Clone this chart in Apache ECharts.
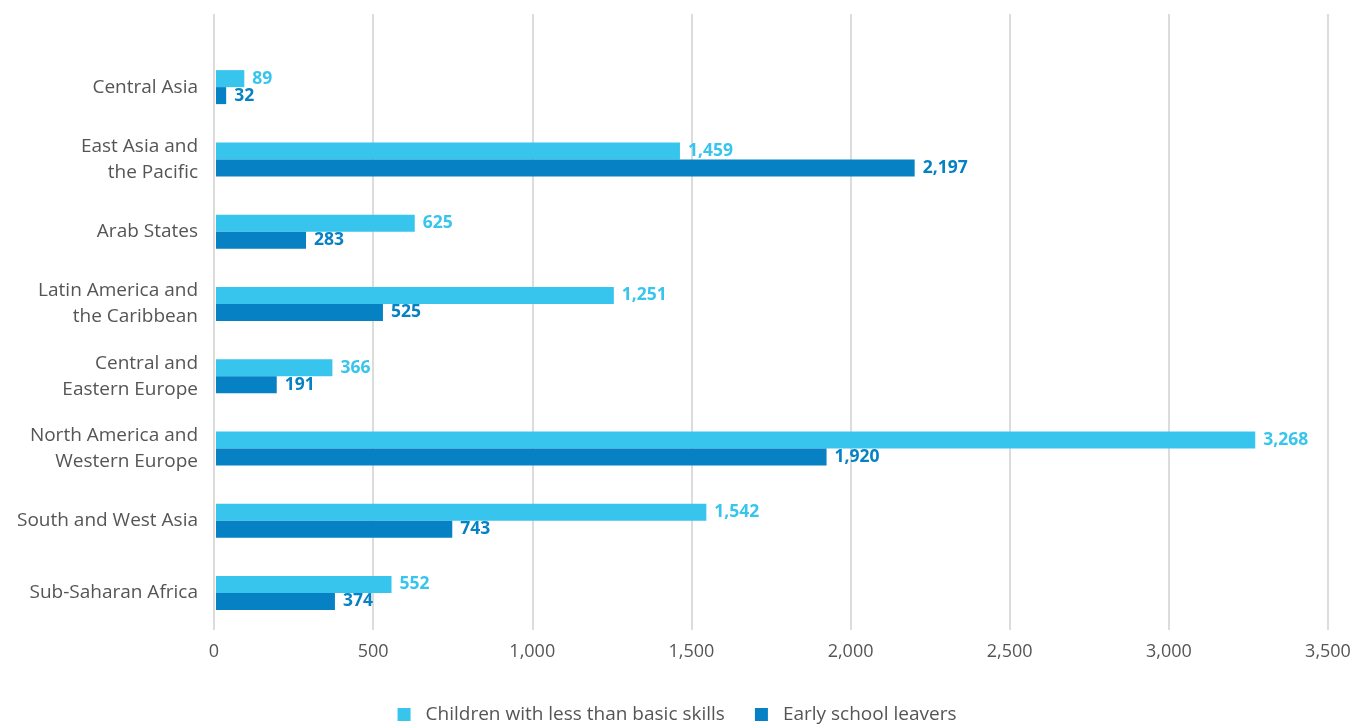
<!DOCTYPE html>
<html>
<head>
<meta charset="utf-8">
<script src="https://cdn.jsdelivr.net/npm/echarts@6/dist/echarts.min.js"></script>
<style>
  html, body { margin: 0; padding: 0; background: #fff; }
  #chart { width: 1354px; height: 724px; }
</style>
</head>
<body>
<div id="chart"></div>
<script>
var regions = [
  'Central Asia',
  'East Asia and\nthe Pacific',
  'Arab States',
  'Latin America and\nthe Caribbean',
  'Central and\nEastern Europe',
  'North America and\nWestern Europe',
  'South and West Asia',
  'Sub-Saharan Africa'
];
var basicSkills = [89, 1459, 625, 1251, 366, 3268, 1542, 552];
var earlyLeavers = [32, 2197, 283, 525, 191, 1920, 743, 374];
var xTicks = [0, 500, 1000, 1500, 2000, 2500, 3000, 3500];

var FONT = '"Open Sans", "Noto Sans", sans-serif';
var LIGHT = '#38c5ed';
var DARK = '#0581c4';

function fmt(v) { return v.toLocaleString('en-US'); }

var chart = echarts.init(document.getElementById('chart'), null, { renderer: 'canvas' });

chart.setOption({
  backgroundColor: '#fff',
  animation: false,
  legend: {
    top: 700,
    left: 'center',
    itemWidth: 13,
    itemHeight: 13,
    itemGap: 30,
    icon: 'rect',
    textStyle: { color: '#555', fontSize: 19, fontFamily: FONT, padding: [0, 0, 0, 10] },
    data: ['Children with less than basic skills', 'Early school leavers']
  },
  grid: [
    { left: 214, right: 26, top: 14, bottom: 94 },
    { left: 216, right: 25, top: 51, bottom: 95 }
  ],
  xAxis: [
    {
      gridIndex: 0, type: 'value', min: 0, max: 3500, interval: 500,
      axisLine: { show: false }, axisTick: { show: false },
      axisLabel: {
        color: '#555', fontSize: 18, fontFamily: FONT, margin: 13,
        formatter: function (v) { return fmt(v); }
      },
      splitLine: { lineStyle: { color: '#d0d0d0', width: 1.5 } }
    },
    {
      gridIndex: 1, type: 'value', min: 0, max: 3500, interval: 500,
      show: false
    }
  ],
  yAxis: [
    { gridIndex: 0, type: 'category', data: regions, show: false },
    {
      gridIndex: 1, type: 'category', data: regions, inverse: true,
      axisLine: { show: false }, axisTick: { show: false },
      axisLabel: {
        color: '#555', fontSize: 19, fontFamily: FONT, margin: 18,
        align: 'right', lineHeight: 26, padding: [4, 0, 0, 0]
      }
    }
  ],
  series: [
    {
      name: 'Children with less than basic skills', type: 'bar',
      xAxisIndex: 1, yAxisIndex: 1,
      data: basicSkills, barWidth: 17, barGap: '0%',
      itemStyle: { color: LIGHT },
      label: {
        show: true, position: 'right', distance: 8,
        color: LIGHT, fontWeight: 'bold', fontSize: 17.5, fontFamily: FONT,
        formatter: function (p) { return fmt(p.value); }
      }
    },
    {
      name: 'Early school leavers', type: 'bar',
      xAxisIndex: 1, yAxisIndex: 1,
      data: earlyLeavers, barWidth: 17, barGap: '0%',
      itemStyle: { color: DARK },
      label: {
        show: true, position: 'right', distance: 8,
        color: DARK, fontWeight: 'bold', fontSize: 17.5, fontFamily: FONT,
        formatter: function (p) { return fmt(p.value); }
      }
    }
  ]
});
</script>
</body>
</html>
